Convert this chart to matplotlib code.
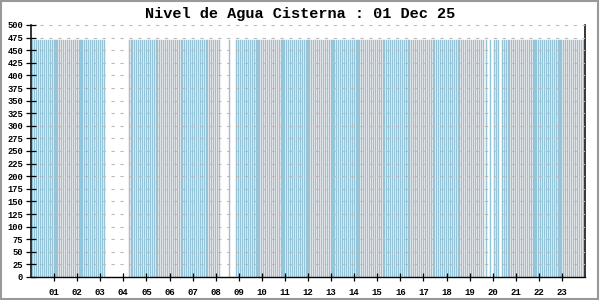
"""
Nivel de Agua Cisterna - grafico de barras (muestras cada 5 minutos)
"""

import matplotlib
matplotlib.use("Agg")
import matplotlib.pyplot as plt
from matplotlib.patches import Rectangle

# ── datos ───────────────────────────────────────────────────────────────────
TITULO = "Nivel de Agua Cisterna : 01 Dec 25"

# etiquetas del eje X (horas)
HORAS = ["01", "02", "03", "04", "05", "06", "07", "08", "09", "10", "11", "12",
         "13", "14", "15", "16", "17", "18", "19", "20", "21", "22", "23"]

# marcas del eje Y
NIVELES_Y = [0, 25, 50, 75, 100, 125, 150, 175, 200, 225, 250, 275, 300,
             325, 350, 375, 400, 425, 450, 475, 500]

# nivel leido cada 5 minutos (12 muestras por hora), None = sin dato
N = None
NIVEL_H00 = [N, 470, 470, 470, 470, 470, 470, 470, 470, 470, 470, 470]
NIVEL_H01 = [470, 470, 470, 470, 470, 470, 470, 470, 470, 470, 470, 470]
NIVEL_H02 = [470, 470, 470, 470, 470, 470, 470, 470, 470, 470, 470, 470]
NIVEL_H03 = [470, 470, 470, N, N, N, N, N, N, N, N, N]
NIVEL_H04 = [N, N, N, 470, 470, 470, 470, 470, 470, 470, 470, 470]
NIVEL_H05 = [470, 470, 470, 470, 470, 470, 470, 470, 470, 470, 470, 470]
NIVEL_H06 = [470, 470, 470, 470, 470, 470, 470, 470, 470, 470, 470, 470]
NIVEL_H07 = [470, 470, 470, 470, 470, 470, 470, 470, 470, 470, 470, 470]
NIVEL_H08 = [470, 470, 470, N, N, N, N, 470, N, N, N, 470]
NIVEL_H09 = [470, 470, 470, 470, 470, 470, 470, 470, 470, 470, 470, 470]
NIVEL_H10 = [470, 470, 470, 470, 470, 470, 470, 470, 470, 470, 470, 470]
NIVEL_H11 = [470, 470, 470, 470, 470, 470, 470, 470, 470, 470, 470, 470]
NIVEL_H12 = [470, 470, 470, 470, 470, 470, 470, 470, 470, 470, 470, 470]
NIVEL_H13 = [470, 470, 470, 470, 470, 470, 470, 470, 470, 470, 470, 470]
NIVEL_H14 = [470, 470, 470, 470, 470, 470, 470, 470, 470, 470, 470, 470]
NIVEL_H15 = [470, 470, 470, 470, 470, 470, 470, 470, 470, 470, 470, 470]
NIVEL_H16 = [470, 470, 470, 470, 470, 470, 470, 470, 470, 470, 470, 470]
NIVEL_H17 = [470, 470, 470, 470, 470, 470, 470, 470, 470, 470, 470, 470]
NIVEL_H18 = [470, 470, 470, 470, 470, 470, 470, 470, 470, 470, 470, 470]
NIVEL_H19 = [470, 470, 470, 470, 470, 470, 470, 470, N, 470, N, 470]
NIVEL_H20 = [N, 470, 470, 470, N, 470, 470, 470, 470, 470, 470, 470]
NIVEL_H21 = [470, 470, 470, 470, 470, 470, 470, 470, 470, 470, 470, 470]
NIVEL_H22 = [470, 470, 470, 470, 470, 470, 470, 470, 470, 470, 470, 470]
NIVEL_H23 = [470, 470, 470, 470, 470, 470, 470, 470, 470, 470, 470, 470]

NIVEL_POR_HORA = [
    NIVEL_H00, NIVEL_H01, NIVEL_H02, NIVEL_H03, NIVEL_H04, NIVEL_H05,
    NIVEL_H06, NIVEL_H07, NIVEL_H08, NIVEL_H09, NIVEL_H10, NIVEL_H11,
    NIVEL_H12, NIVEL_H13, NIVEL_H14, NIVEL_H15, NIVEL_H16, NIVEL_H17,
    NIVEL_H18, NIVEL_H19, NIVEL_H20, NIVEL_H21, NIVEL_H22, NIVEL_H23,
]

# ── muestras -> (hora decimal, nivel) ───────────────────────────────────────
t, v = [], []
for h, fila in enumerate(NIVEL_POR_HORA):
    for k, nivel in enumerate(fila):
        if nivel is not None:
            t.append(h + k / 12)
            v.append(nivel)

# ── figura ──────────────────────────────────────────────────────────────────
MONO = "Liberation Mono"
fig = plt.figure(figsize=(6, 3), dpi=100)
ax = fig.add_axes([31 / 600, 23 / 300, 554 / 600, 252 / 300])

ax.bar(t, v, width=0.045, color="#87CEEB", edgecolor="#AAB8C2",
       linewidth=0.3, align="center", zorder=2)

ax.set_xlim(0, 24)
ax.set_ylim(0, 500)

# grilla horizontal punteada por encima de las barras
ax.set_yticks(NIVELES_Y)
ax.set_yticklabels([str(n) for n in NIVELES_Y], fontsize=6.3, family=MONO,
                   fontweight="bold")
ax.yaxis.grid(True, linestyle=(0, (3, 5)), color="#BBBBBB", linewidth=0.8,
              zorder=3)
ax.set_axisbelow(False)

ax.set_xticks(range(1, 24))
ax.set_xticklabels(HORAS, fontsize=6.5, family=MONO, fontweight="bold")

ax.tick_params(axis="y", direction="inout", length=6.5, width=0.9, pad=2.5)
ax.tick_params(axis="x", direction="inout", length=6, width=0.9, pad=5)

for s in ("left", "right"):
    ax.spines[s].set_color("black")
    ax.spines[s].set_linewidth(1.1)
ax.spines["top"].set_visible(False)
ax.spines["bottom"].set_linestyle((0, (1, 1)))
ax.spines["bottom"].set_linewidth(1)
ax.spines["bottom"].set_zorder(4)

fig.text(0.5, 0.953, TITULO, ha="center", va="center", fontsize=11,
         family=MONO, fontweight="bold")

# marco gris de la imagen
fig.patches.append(Rectangle((0.001, 0.002), 0.996, 0.995,
                             transform=fig.transFigure, fill=False,
                             edgecolor="#999999", linewidth=1.5))

fig.savefig("out.png", dpi=100)
